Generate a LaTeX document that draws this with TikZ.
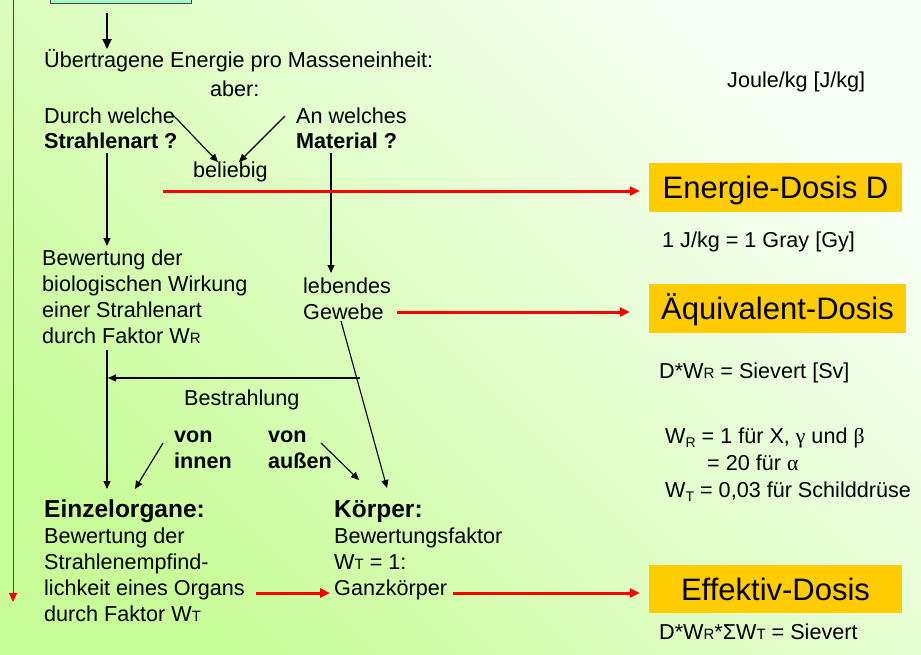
\documentclass[tikz,border=0pt]{standalone}
\usepackage{fontspec}
\setmainfont{Liberation Sans}
\newfontfamily\greekfont{Liberation Serif}
\usetikzlibrary{arrows.meta}
\definecolor{bgdark}{RGB}{200,252,152}
\definecolor{bglight}{RGB}{248,255,246}
\definecolor{gold}{RGB}{255,204,0}
\definecolor{mint}{RGB}{160,248,204}
\definecolor{redline}{RGB}{255,0,0}
\newcommand{\smallsub}[1]{{\fontsize{15}{15}\selectfont #1}}
\newcommand{\lowsub}[1]{\raisebox{-4pt}{\fontsize{14}{14}\selectfont #1}}
\begin{document}
\begin{tikzpicture}[x=1pt,y=-1pt,
  txt/.style={anchor=base west, inner sep=0pt, align=left, font=\fontsize{21.6}{26}\selectfont},
  btxt/.style={txt, font=\fontsize{21.6}{26}\selectfont\bfseries},
  titletxt/.style={txt, font=\fontsize{24.5}{28}\selectfont\bfseries},
  dosebox/.style={fill=gold, inner sep=0pt, text height=22pt, text depth=0pt, font=\fontsize{31}{36}\selectfont},
  blk/.style={draw=black, line width=1.1pt, -{Triangle[length=8pt,width=7pt]}},
  blkthick/.style={draw=black, line width=2pt, -{Triangle[length=10pt,width=9pt]}},
  redarrow/.style={draw=redline, line width=3pt, -{Triangle[length=10pt,width=9pt]}},
  redthin/.style={draw=redline, line width=1pt, -{Triangle[length=9pt,width=8pt]}}]
\useasboundingbox (0,0) rectangle (921,654);
\shade[top color=bglight, bottom color=bgdark, shading angle=-45] (0,0) rectangle (921,654);

% top box (cut off)
\node[draw={rgb,255:red,70;green,70;blue,70}, line width=1.3pt, fill=mint, minimum width=141pt, minimum height=44pt, inner sep=0pt, anchor=south west] (start) at (50,4) {};

% texts (anchor = baseline of the LAST line)
\node[txt] (ueber) at (44,67) {Übertragene Energie pro Masseneinheit:};
\node[txt] (aber) at (210,96) {aber:};
\node[txt, font=\fontsize{21.6}{25}\selectfont] (durch) at (44,148) {Durch welche\\\textbf{Strahlenart ?}};
\node[txt, font=\fontsize{21.6}{25}\selectfont] (an) at (296,148) {An welches\\\textbf{Material ?}};
\node[txt] (beliebig) at (193,177) {beliebig};
\node[txt] (joule) at (727,87) {Joule/kg [J/kg]};
\node[txt] (bewertung) at (42,343) {Bewertung der\\biologischen Wirkung\\einer Strahlenart\\durch Faktor W\smallsub{R}};
\node[txt] (lebendes) at (303,319) {lebendes\\Gewebe};
\node[txt] (bestr) at (184,405) {Bestrahlung};
\node[btxt] (innen) at (174,468) {von\\innen};
\node[btxt] (aussen) at (268,468) {von\\außen};
\node[titletxt] (einzel) at (44,517) {Einzelorgane:};
\node[txt] (einzeltext) at (44,621) {Bewertung der\\Strahlenempfind-\\lichkeit eines Organs\\durch Faktor W\smallsub{T}};
\node[titletxt] (koerper) at (334,517) {Körper:};
\node[txt] (koerpertext) at (334,595) {Bewertungsfaktor\\W\smallsub{T} = 1:\\Ganzkörper};

% right side
\node[dosebox, minimum width=253pt, minimum height=49pt] (energie) at (775.5,187.5) {Energie-Dosis D};
\node[txt] (gray) at (662,247) {1 J/kg = 1 Gray [Gy]};
\node[dosebox, minimum width=257pt, minimum height=49pt] (aequiv) at (777.5,308.5) {Äquivalent-Dosis};
\node[txt] (dwr) at (659,378) {D*W\smallsub{R} = Sievert [Sv]};
\node[txt] (wr1) at (665,443) {W\lowsub{R} = 1 für X, {\greekfont γ} und {\greekfont β}};
\node[txt] (wr2) at (707,470) {= 20 für {\greekfont α}};
\node[txt] (wt) at (665,497) {W\lowsub{T} = 0,03 für Schilddrüse};
\node[dosebox, minimum width=253pt, minimum height=48pt] (effektiv) at (775.5,589) {Effektiv-Dosis};
\node[txt] (dwrwt) at (659,639) {D*W\smallsub{R}*ΣW\smallsub{T} = Sievert};

% connector end points
\coordinate (lefttop) at (13,0);
\coordinate (leftend) at (13,602);
\coordinate (a1s) at (107,13);
\coordinate (a1e) at (107,49);
\coordinate (a2s) at (173,115);
\coordinate (a2e) at (218,162);
\coordinate (a3s) at (285,116);
\coordinate (a3e) at (239,162);
\coordinate (a4s) at (107,153);
\coordinate (a4e) at (107,246);
\coordinate (a5s) at (331,153);
\coordinate (a5e) at (331,273);
\coordinate (a6s) at (341,321);
\coordinate (a6e) at (387,488);
\coordinate (a7s) at (360,378);
\coordinate (a7e) at (108,378);
\coordinate (a8s) at (107,350);
\coordinate (a8e) at (107,489);
\coordinate (a9s) at (163,443);
\coordinate (a9e) at (135,489);
\coordinate (a10s) at (321,443);
\coordinate (a10e) at (359,480);
\coordinate (r1s) at (163,191);
\coordinate (r2s) at (397,312);
\coordinate (r3s) at (256,593);
\coordinate (r3e) at (330,593);
\coordinate (r4s) at (453,593);

% black connectors
\draw[blkthick] (a1s) -- (a1e);
\draw[blk] (a2s) -- (a2e);
\draw[blk] (a3s) -- (a3e);
\draw[blk] (a4s) -- (a4e);
\draw[blk] (a5s) -- (a5e);
\draw[blk] (a6s) -- (a6e);
\draw[blk] (a7s) -- (a7e);
\draw[blk] (a8s) -- (a8e);
\draw[blk] (a9s) -- (a9e);
\draw[blk] (a10s) -- (a10e);

% red connectors
\draw[redthin] (lefttop) -- (leftend);
\draw[redarrow, shorten >=9pt] (r1s) -- (r1s -| energie.west);
\draw[redarrow, shorten >=19pt] (r2s) -- (r2s -| aequiv.west);
\draw[redarrow] (r3s) -- (r3e);
\draw[redarrow, shorten >=9pt] (r4s) -- (r4s -| effektiv.west);
\end{tikzpicture}
\end{document}
